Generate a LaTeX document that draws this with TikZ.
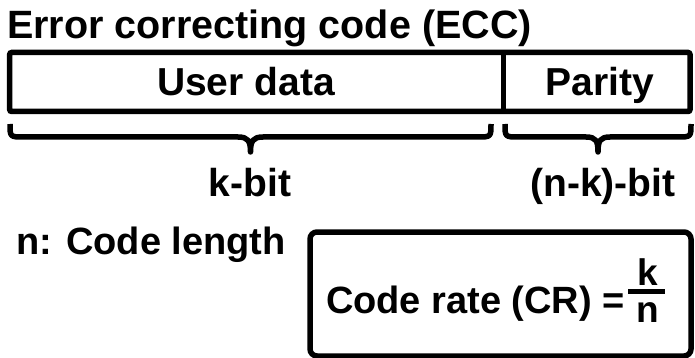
\documentclass[tikz,border=0pt]{standalone}
\usepackage{fontspec}
\setmainfont{Liberation Sans}
\begin{document}
\begin{tikzpicture}[x=1pt,y=-1pt,
  lbl/.style={font=\fontsize{39}{45}\selectfont\bfseries, inner sep=0pt, text=black},
  thick line/.style={line width=5.5pt, draw=black},
  bracepath/.style={line width=5.5pt, draw=black, line join=round}]
\useasboundingbox (0,0) rectangle (695,358);
% title
\node[lbl, anchor=base west, font=\fontsize{39.5}{45}\selectfont\bfseries] (title) at (7,39) {Error correcting code (ECC)};
% code word box
\draw[thick line, rounded corners=2pt] (9.7,52.5) rectangle (690,111.5);
\coordinate (divtop) at (503.5,52.5);
\coordinate (divbot) at (503.5,111.5);
\draw[thick line] (divtop) -- (divbot);
\node[lbl, anchor=base] (user) at (246,96) {User data};
\node[lbl, anchor=base] (parity) at (600,96) {Parity};
% braces
\draw[bracepath] (10,124) .. controls (10,137) .. (24,137) -- (238,137)
  .. controls (248,137) and (250.5,141) .. (250.5,152)
  .. controls (250.5,141) and (253,137) .. (263,137) -- (477,137)
  .. controls (491,137) .. (491,124);
\draw[bracepath] (505,124) .. controls (505,137) .. (519,137) -- (586,137)
  .. controls (596,137) and (598,141) .. (598,152)
  .. controls (598,141) and (600,137) .. (610,137) -- (677,137)
  .. controls (691,137) .. (691,124);
\node[lbl, anchor=base] (kbit) at (250,196) {k-bit};
\node[lbl, anchor=base] (nkbit) at (603,196) {(n-k)-bit};
% code length
\node[lbl, anchor=base west, font=\fontsize{38}{44}\selectfont\bfseries] (clen) at (16,254) {n: Code length};
% code rate box
\draw[thick line, rounded corners=7pt] (310,232) rectangle (691,356);
\node[lbl, anchor=base east, font=\fontsize{38}{44}\selectfont\bfseries] (cr) at (625,313) {Code rate (CR) =};
\node[lbl, anchor=base, font=\fontsize{37}{42}\selectfont\bfseries] (fk) at (648,285) {k};
\node[lbl, anchor=base, font=\fontsize{37}{42}\selectfont\bfseries] (fn) at (648,322) {n};
\coordinate (barL) at (628,291.5);
\coordinate (barR) at (665,291.5);
\draw[line width=5pt] (barL) -- (barR);
\end{tikzpicture}
\end{document}
